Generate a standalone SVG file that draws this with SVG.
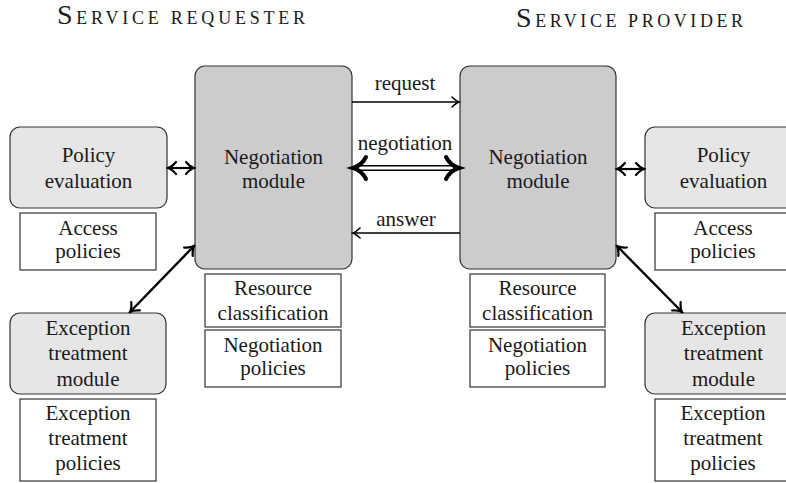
<svg xmlns="http://www.w3.org/2000/svg" width="786" height="483" viewBox="0 0 786 483" font-family="'Liberation Serif', 'Times New Roman', 'DejaVu Serif', serif">
<defs>
<style>
text{font-family:'Liberation Serif','Times New Roman','DejaVu Serif',serif;font-size:21px;fill:#1a1a1a;text-anchor:middle}
.title{text-anchor:start;font-size:18px}
.mod{fill:#cccccc;stroke:#333;stroke-width:1.2}
.aux{fill:#e6e6e6;stroke:#333;stroke-width:1.2}
.box{fill:#fff;stroke:#333;stroke-width:1.2}
.ln{fill:none;stroke:#000}
</style>
<marker id="to" viewBox="-10 -7 12 14" refX="0" refY="0" markerWidth="12" markerHeight="14" markerUnits="userSpaceOnUse" orient="auto-start-reverse">
<path d="M-7,-5 C-4,-2 -1.5,-0.5 0,0 C-1.5,0.5 -4,2 -7,5" fill="none" stroke="#000" stroke-width="1.6" stroke-linecap="round"/>
</marker>
<marker id="toB" viewBox="-11 -8 13 16" refX="0" refY="0" markerWidth="13" markerHeight="16" markerUnits="userSpaceOnUse" orient="auto-start-reverse">
<path d="M-8,-6 C-5,-2.5 -2,-0.6 0,0 C-2,0.6 -5,2.5 -8,6" fill="none" stroke="#000" stroke-width="2.2" stroke-linecap="round"/>
</marker>
</defs>

<text class="title" x="57" y="24" textLength="248" lengthAdjust="spacing"><tspan font-size="28">S</tspan>ERVICE REQUESTER</text>
<text class="title" x="516" y="27" textLength="227" lengthAdjust="spacing"><tspan font-size="28">S</tspan>ERVICE PROVIDER</text>

<g id="left-negotiation-module">
<rect class="mod" x="195" y="66" width="157" height="203" rx="10"/>
<text x="273.5" y="164">Negotiation</text>
<text x="273.5" y="188">module</text>
</g>
<g id="right-negotiation-module">
<rect class="mod" x="460" y="66" width="156" height="203" rx="10"/>
<text x="538" y="164">Negotiation</text>
<text x="538" y="188">module</text>
</g>

<g id="left-policy-evaluation">
<rect class="aux" x="10" y="127" width="157" height="81" rx="10"/>
<text x="88.5" y="162">Policy</text>
<text x="88.5" y="188">evaluation</text>
</g>
<g id="left-access-policies">
<rect class="box" x="20" y="213" width="136" height="57"/>
<text x="88" y="235">Access</text>
<text x="88" y="258">policies</text>
</g>
<g id="right-policy-evaluation">
<rect class="aux" x="645" y="127" width="157" height="81" rx="10"/>
<text x="723.5" y="162">Policy</text>
<text x="723.5" y="188">evaluation</text>
</g>
<g id="right-access-policies">
<rect class="box" x="655" y="213" width="136" height="57"/>
<text x="723" y="235">Access</text>
<text x="723" y="258">policies</text>
</g>

<g id="left-resource-classification">
<rect class="box" x="205" y="274" width="136" height="53"/>
<text x="273" y="295">Resource</text>
<text x="273" y="320">classification</text>
</g>
<g id="left-negotiation-policies">
<rect class="box" x="205" y="330" width="136" height="57"/>
<text x="273" y="352">Negotiation</text>
<text x="273" y="375">policies</text>
</g>
<g id="right-resource-classification">
<rect class="box" x="470" y="274" width="135" height="53"/>
<text x="537.5" y="295">Resource</text>
<text x="537.5" y="320">classification</text>
</g>
<g id="right-negotiation-policies">
<rect class="box" x="470" y="330" width="135" height="57"/>
<text x="537.5" y="352">Negotiation</text>
<text x="537.5" y="375">policies</text>
</g>

<g id="left-exception-module">
<rect class="aux" x="10" y="313" width="156" height="81" rx="10"/>
<text x="88" y="335">Exception</text>
<text x="88" y="360">treatment</text>
<text x="88" y="386">module</text>
</g>
<g id="left-exception-policies">
<rect class="box" x="20" y="399" width="136" height="82"/>
<text x="88" y="420">Exception</text>
<text x="88" y="445">treatment</text>
<text x="88" y="470">policies</text>
</g>
<g id="right-exception-module">
<rect class="aux" x="645" y="313" width="157" height="81" rx="10"/>
<text x="723.5" y="335">Exception</text>
<text x="723.5" y="360">treatment</text>
<text x="723.5" y="386">module</text>
</g>
<g id="right-exception-policies">
<rect class="box" x="655" y="399" width="136" height="82"/>
<text x="723" y="420">Exception</text>
<text x="723" y="445">treatment</text>
<text x="723" y="470">policies</text>
</g>

<g id="connectors">
<line class="ln" x1="352" y1="102" x2="459" y2="102" stroke-width="1.6" marker-end="url(#to)"/>
<text x="405" y="90" font-size="18">request</text>
<line class="ln" x1="460" y1="233" x2="353" y2="233" stroke-width="1.6" marker-end="url(#to)"/>
<text x="406" y="226" font-size="18">answer</text>
<text x="405" y="150">negotiation</text>
<line class="ln" x1="356" y1="165.8" x2="456" y2="165.8" stroke-width="1.6"/>
<line class="ln" x1="356" y1="170.2" x2="456" y2="170.2" stroke-width="1.6"/>
<path class="ln" d="M446,157 C449,163 454,166.5 459,168 C454,169.5 449,173 446,179" stroke-width="4" stroke-linecap="round"/>
<path class="ln" d="M366,157 C363,163 358,166.5 353,168 C358,169.5 363,173 366,179" stroke-width="4" stroke-linecap="round"/>
<line class="ln" x1="168" y1="168" x2="194" y2="168" stroke-width="2.2" marker-start="url(#toB)" marker-end="url(#toB)"/>
<line class="ln" x1="617" y1="169" x2="644" y2="169" stroke-width="2.2" marker-start="url(#toB)" marker-end="url(#toB)"/>
<line class="ln" x1="130" y1="312" x2="194" y2="246" stroke-width="2.4" marker-start="url(#toB)" marker-end="url(#toB)"/>
<line class="ln" x1="617" y1="246" x2="682" y2="312" stroke-width="2.4" marker-start="url(#toB)" marker-end="url(#toB)"/>
</g>
</svg>
